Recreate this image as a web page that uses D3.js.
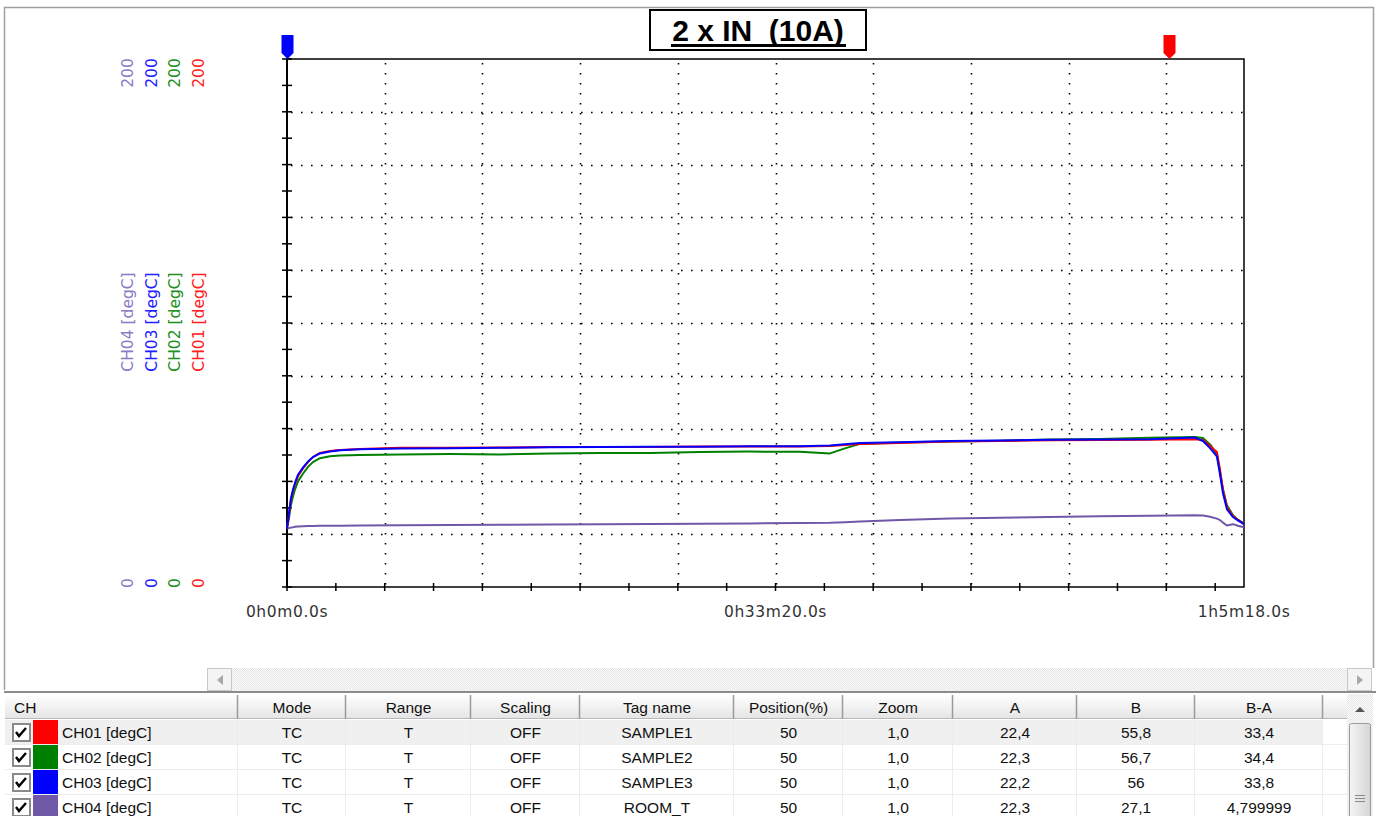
<!DOCTYPE html>
<html>
<head>
<meta charset="utf-8">
<script src="https://cdn.jsdelivr.net/npm/d3@7"></script>
<style>
  body { margin: 0; background: #fff; }
  svg { display: block; }
  .tbl { font-family: "Liberation Sans", Arial, sans-serif; font-size: 15.5px; fill: #111; }
  .ttl { white-space: pre; }
</style>
</head>
<body>
<svg id="chart" width="1376" height="816"></svg>
<script>
// time in seconds, values in degC
var times = [0, 8, 16, 25, 33, 45, 66, 86, 106, 135, 176, 217, 299, 463, 667, 872, 1077, 1281, 1486, 1691, 1895, 2100,
    2223, 2284, 2346, 2510, 2714, 2919, 3124, 3328, 3533, 3717, 3750, 3779, 3807, 3820, 3832, 3848, 3873, 3893, 3918];
var ch01 = [22.4, 27.3, 33, 36.7, 39, 42, 45, 47.3, 49.2, 50.8, 51.5, 51.9, 52.3, 52.7, 52.7, 52.8, 53, 53, 53, 53.2, 53.2, 53.2,
    53.4, 53.8, 54.2, 54.5, 55.1, 55.3, 55.6, 55.7, 55.8, 56.0, 55.7, 53.4, 51.1, 44.3, 36.7, 30.3, 26.9, 25.4, 23.9];
var ch02 = [22.3, 26, 31, 34.5, 37, 40, 43, 45.5, 47.3, 48.8, 49.5, 49.8, 50, 50.2, 50.4, 50.2, 50.6, 50.8, 50.8, 51.1, 51.3, 51.2,
    50.6, 52.5, 54.2, 54.7, 55.1, 55.4, 55.9, 56.1, 56.5, 56.8, 56.4, 54.0, 50.3, 43.5, 37, 31, 27.2, 25.5, 24];
var ch03 = [22.2, 28, 33.5, 37, 39.5, 42.5, 45.3, 47.5, 49.2, 50.6, 51.3, 51.8, 52.2, 52.5, 52.6, 52.7, 52.9, 53, 53.1, 53.1, 53.3, 53.3,
    53.6, 54.1, 54.5, 54.8, 55.3, 55.5, 55.8, 55.9, 56, 56.6, 55.3, 52.6, 49.5, 42.6, 35.5, 29.5, 26.5, 25.2, 23.8];
var ch04 = [22.3, 22.3, 22.5, 22.6, 22.8, 22.9, 23.0, 23.1, 23.1, 23.2, 23.2, 23.2, 23.3, 23.4, 23.5, 23.6, 23.7, 23.8, 23.9, 24.0, 24.1, 24.2,
    24.3, 24.5, 24.8, 25.4, 25.9, 26.2, 26.5, 26.8, 27.0, 27.2, 27.1, 26.6, 25.9, 25.3, 24.4, 23.3, 23.8, 23.2, 22.6];

var channels = ["CH01", "CH02", "CH03", "CH04"];
var lineColors = ["#ff0000", "#008000", "#0000ff", "#7058a8"];
var labelColors = ["#ff2020", "#209020", "#2020ff", "#8a7cc4"];
var yMax = 200;
var tEnd = 3918;
var cursorA = 0, cursorB = 3611;
var xTickLabels = [[0, "0h0m0.0s"], [2000, "0h33m20.0s"], [3918, "1h5m18.0s"]];

// table
var tableHeaders = ["CH", "Mode", "Range", "Scaling", "Tag name", "Position(%)", "Zoom", "A", "B", "B-A", ""];
var modes = ["TC", "TC", "TC", "TC"];
var ranges = ["T", "T", "T", "T"];
var scalings = ["OFF", "OFF", "OFF", "OFF"];
var tagNames = ["SAMPLE1", "SAMPLE2", "SAMPLE3", "ROOM_T"];
var positions = ["50", "50", "50", "50"];
var zooms = ["1,0", "1,0", "1,0", "1,0"];
var valA = ["22,4", "22,3", "22,2", "22,3"];
var valB = ["55,8", "56,7", "56", "27,1"];
var valBA = ["33,4", "34,4", "33,8", "4,799999"];

var svg = d3.select("#chart");
var pLeft = 287, pRight = 1244, pTop = 59, pBottom = 587;

var x = d3.scaleLinear().domain([0, tEnd]).range([pLeft, pRight]);
var y = d3.scaleLinear().domain([0, yMax]).range([pBottom, pTop]);

// panel frame
svg.append("path")
    .attr("d", "M4.5,690 V7.5 H1373.5 V668")
    .attr("fill", "none").attr("stroke", "#a0a0a0").attr("stroke-width", 1.5);

// grid
var grid = svg.append("g").attr("stroke", "#000").attr("stroke-width", 1.6)
    .attr("stroke-dasharray", "1.6,8.4");
grid.selectAll("line.h").data(d3.range(20, 200, 20)).enter().append("line")
    .attr("x1", pLeft + 4).attr("x2", pRight)
    .attr("y1", d => Math.round(y(d)) + 0.5).attr("y2", d => Math.round(y(d)) + 0.5);
grid.selectAll("line.v").data(d3.range(400, tEnd, 400)).enter().append("line")
    .attr("y1", pTop + 4).attr("y2", pBottom)
    .attr("x1", d => Math.round(x(d)) + 0.5).attr("x2", d => Math.round(x(d)) + 0.5);

// frame
svg.append("rect").attr("x", pLeft).attr("y", pTop).attr("width", pRight - pLeft).attr("height", pBottom - pTop)
    .attr("fill", "none").attr("stroke", "#000").attr("stroke-width", 1.5);
svg.append("line").attr("x1", pLeft).attr("x2", pLeft).attr("y1", pTop).attr("y2", pBottom)
    .attr("stroke", "#000").attr("stroke-width", 2);

// ticks
svg.append("g").selectAll("line").data(d3.range(0, 201, 10)).enter().append("line")
    .attr("x1", pLeft - 5).attr("x2", pLeft + 5)
    .attr("y1", d => y(d)).attr("y2", d => y(d))
    .attr("stroke", "#000").attr("stroke-width", 1.5);
svg.append("g").selectAll("line").data(d3.range(0, tEnd, 200)).enter().append("line")
    .attr("x1", d => x(d)).attr("x2", d => x(d))
    .attr("y1", pBottom - 4).attr("y2", pBottom + 4)
    .attr("stroke", "#000").attr("stroke-width", 1.5);

// x labels
svg.append("g").selectAll("text").data(xTickLabels).enter().append("text")
    .attr("x", d => x(d[0]))
    .attr("y", 617)
    .attr("text-anchor", "middle")
    .attr("font-family", "DejaVu Sans, sans-serif")
    .attr("font-size", 15.5)
    .attr("letter-spacing", 0.6)
    .attr("fill", "#333")
    .text(d => d[1]);

// rotated y labels, one column per channel (CH04 leftmost)
var colX = [198, 174, 151, 127];
channels.forEach(function (ch, i) {
    var g = svg.append("g").attr("fill", labelColors[i])
        .attr("font-family", "DejaVu Sans, sans-serif").attr("font-size", 15.5);
    [[yMax, 73], [0, 583], [ch + " [degC]", 322]].forEach(function (p) {
        g.append("text")
            .attr("transform", "translate(" + (colX[i] + 5.5) + "," + p[1] + ") rotate(-90)")
            .attr("text-anchor", "middle")
            .text(p[0]);
    });
});

// series
var series = [ch01, ch02, ch03, ch04];
var line = d3.line().x((d, i) => x(times[i])).y(d => y(d));
// draw in order purple, green, red, blue (blue on top)
[3, 1, 0, 2].forEach(function (k) {
    svg.append("path").datum(series[k])
        .attr("d", line)
        .attr("fill", "none")
        .attr("stroke", lineColors[k])
        .attr("stroke-width", 2)
        .attr("stroke-linejoin", "round");
});

// cursors
function marker(t, color) {
    var cx = Math.round(x(t)) + 0.5;
    svg.append("path")
        .attr("d", "M" + (cx - 6) + ",35 H" + (cx + 6) + " V53 L" + cx + ",59 L" + (cx - 6) + ",53 Z")
        .attr("fill", color);
}
marker(cursorA, "#0000ff");
marker(cursorB, "#ff0000");

// title
svg.append("rect").attr("x", 650).attr("y", 10).attr("width", 216).attr("height", 40)
    .attr("fill", "#fff").attr("stroke", "#000").attr("stroke-width", 2);
svg.append("text").attr("class", "ttl").attr("x", 758).attr("y", 41).attr("text-anchor", "middle")
    .attr("font-family", "Liberation Sans, Arial, sans-serif").attr("font-weight", "bold")
    .attr("font-size", 30).attr("fill", "#000")
    .text("2 x IN  (10A)");
svg.append("rect").attr("x", 671).attr("y", 44).attr("width", 175).attr("height", 3).attr("fill", "#000");

// ---------- bottom table ----------
var defs = svg.append("defs");
var pat = defs.append("pattern").attr("id", "dith").attr("width", 2).attr("height", 2)
    .attr("patternUnits", "userSpaceOnUse");
pat.append("rect").attr("width", 2).attr("height", 2).attr("fill", "#fbfbfb");
pat.append("rect").attr("width", 1).attr("height", 1).attr("fill", "#e6e6e6");
pat.append("rect").attr("x", 1).attr("y", 1).attr("width", 1).attr("height", 1).attr("fill", "#e6e6e6");
var hg = defs.append("linearGradient").attr("id", "hdr").attr("x1", 0).attr("x2", 0).attr("y1", 0).attr("y2", 1);
hg.append("stop").attr("offset", "0").attr("stop-color", "#ffffff");
hg.append("stop").attr("offset", "1").attr("stop-color", "#e4e4e4");
var vg = defs.append("linearGradient").attr("id", "thumb");
vg.append("stop").attr("offset", "0").attr("stop-color", "#f4f4f4");
vg.append("stop").attr("offset", "1").attr("stop-color", "#d6d6d6");

// horizontal scrollbar
svg.append("rect").attr("x", 207).attr("y", 668).attr("width", 1165).attr("height", 23).attr("fill", "url(#dith)");
[[207, "M223,675 L217,680 L223,685 Z"], [1347, "M1357,675 L1363,680 L1357,685 Z"]].forEach(function (a) {
    svg.append("rect").attr("x", a[0] + 0.5).attr("y", 668.5).attr("width", 24).attr("height", 22)
        .attr("fill", "#f4f4f4").attr("stroke", "#c8c8c8");
    svg.append("path").attr("d", a[1]).attr("fill", "#a8a8a8");
});
svg.append("line").attr("x1", 4).attr("x2", 1376).attr("y1", 692).attr("y2", 692)
    .attr("stroke", "#8c8c8c").attr("stroke-width", 2);

var colEdges = [5, 238, 346, 471, 580, 734, 843, 953, 1077, 1195, 1323, 1347];
var hdrTop = 695, hdrH = 24, rowTop = 720, rowH = 25;

// header
svg.append("rect").attr("x", 5).attr("y", hdrTop).attr("width", 1342).attr("height", hdrH).attr("fill", "url(#hdr)");
svg.append("line").attr("x1", 5).attr("x2", 1347).attr("y1", hdrTop + hdrH - 0.5).attr("y2", hdrTop + hdrH - 0.5)
    .attr("stroke", "#b8b8b8");
colEdges.slice(1, -1).forEach(function (e) {
    svg.append("line").attr("x1", e - 0.5).attr("x2", e - 0.5).attr("y1", hdrTop).attr("y2", hdrTop + hdrH)
        .attr("stroke", "#9a9a9a").attr("stroke-width", 1.5);
});
svg.selectAll("text.hd").data(tableHeaders).enter().append("text")
    .attr("class", "tbl")
    .attr("x", (d, i) => i === 0 ? 14 : (colEdges[i] + colEdges[i + 1]) / 2)
    .attr("y", hdrTop + 18)
    .attr("text-anchor", (d, i) => i === 0 ? "start" : "middle")
    .text(d => d);

// rows
svg.append("rect").attr("x", 5).attr("y", rowTop).attr("width", 1318).attr("height", rowH)
    .attr("fill", "#f0f0f0");
channels.forEach(function (ch, r) {
    var ry = rowTop + r * rowH;
    svg.append("line").attr("x1", 5).attr("x2", 1347).attr("y1", ry + rowH - 0.5).attr("y2", ry + rowH - 0.5)
        .attr("stroke", "#ececec");
    // checkbox
    svg.append("rect").attr("x", 13).attr("y", ry + 4).attr("width", 17).attr("height", 17)
        .attr("fill", "#fff").attr("stroke", "#8a8a8a").attr("stroke-width", 2);
    svg.append("path").attr("d", "M16," + (ry + 12) + " l3,4 l7,-8")
        .attr("fill", "none").attr("stroke", "#000").attr("stroke-width", 2.4);
    svg.append("rect").attr("x", 33).attr("y", ry).attr("width", 25).attr("height", rowH - 1)
        .attr("fill", lineColors[r]);
    var cells = [ch + " [degC]", modes[r], ranges[r], scalings[r], tagNames[r], positions[r],
        zooms[r], valA[r], valB[r], valBA[r]];
    cells.forEach(function (c, i) {
        svg.append("text").attr("class", "tbl")
            .attr("x", i === 0 ? 62 : (colEdges[i] + colEdges[i + 1]) / 2)
            .attr("y", ry + 18)
            .attr("text-anchor", i === 0 ? "start" : "middle")
            .text(c);
    });
});
colEdges.slice(1, -1).forEach(function (e) {
    svg.append("line").attr("x1", e - 0.5).attr("x2", e - 0.5).attr("y1", rowTop).attr("y2", 816)
        .attr("stroke", "#ececec");
});

// vertical scrollbar
svg.append("rect").attr("x", 1347).attr("y", 694).attr("width", 26).attr("height", 122).attr("fill", "url(#dith)");
svg.append("path").attr("d", "M1355,712 L1360,707 L1365,712 Z").attr("fill", "#555");
svg.append("rect").attr("x", 1349.5).attr("y", 723.5).attr("width", 21).attr("height", 100).attr("rx", 2)
    .attr("fill", "url(#thumb)").attr("stroke", "#9a9a9a");
[795, 798, 801].forEach(function (gy) {
    svg.append("line").attr("x1", 1355).attr("x2", 1365).attr("y1", gy + 0.5).attr("y2", gy + 0.5)
        .attr("stroke", "#8a8a8a");
});
</script>
</body>
</html>
